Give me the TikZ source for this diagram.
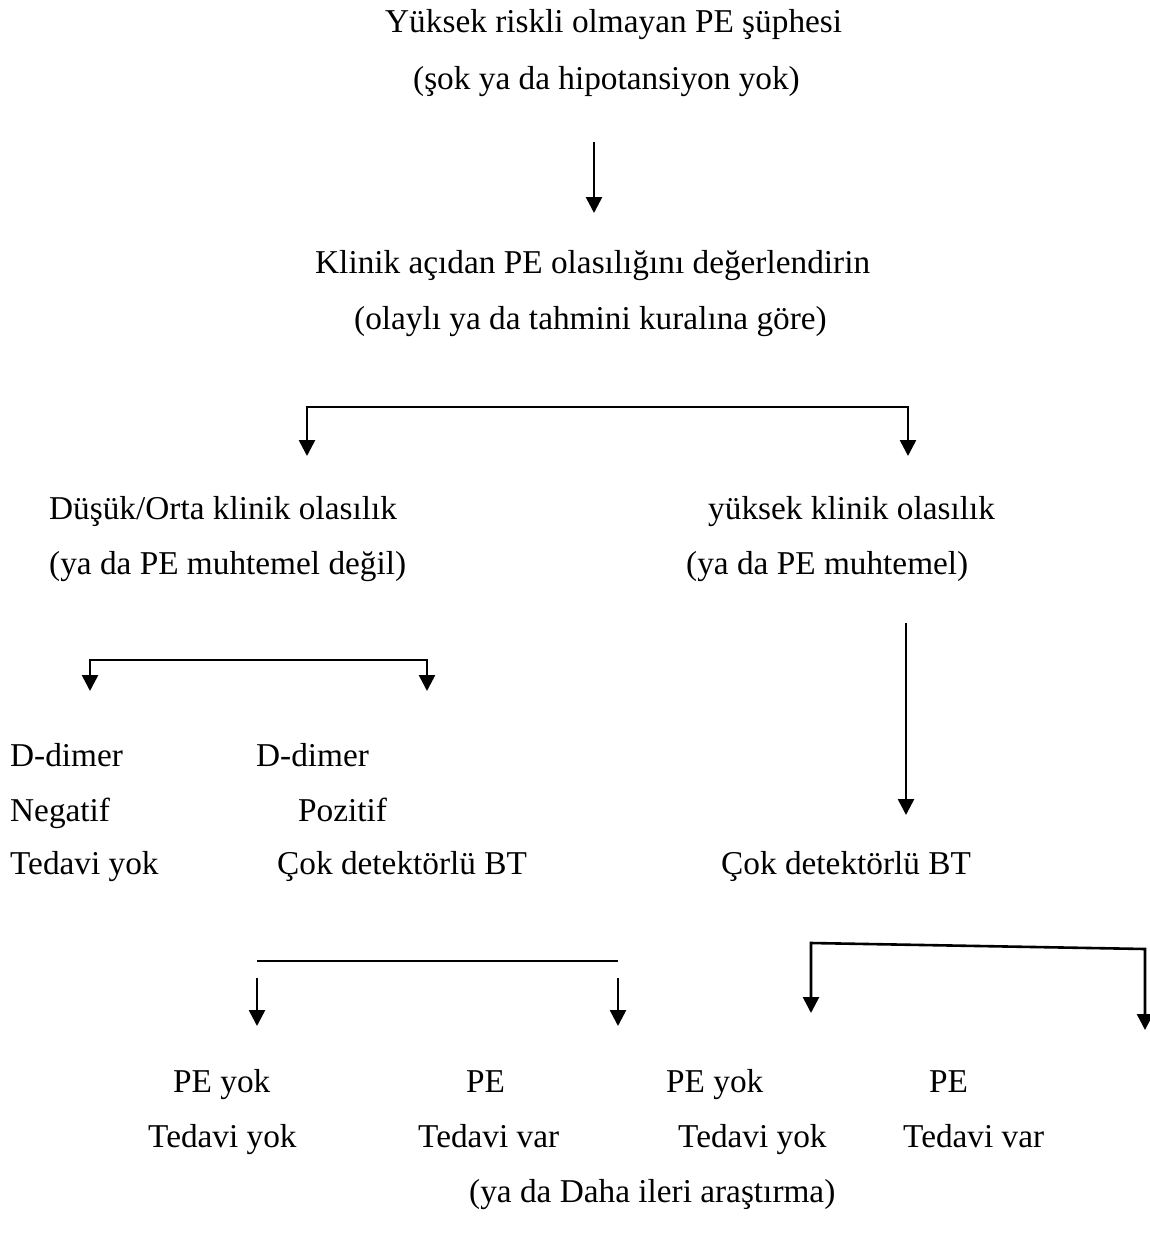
\documentclass[tikz,border=0pt]{standalone}
\usepackage{fontspec}
\setmainfont{Liberation Serif}
\usepackage{tikz}
\usetikzlibrary{arrows.meta}

\tikzset{
  lbl/.style={anchor=base west,inner sep=0pt,font=\fontsize{33.3}{40}\selectfont},
  arr/.style={line width=2.6pt,-{Triangle[width=16pt,length=16pt]}},
  link/.style={line width=2.6pt}
}

\begin{document}
\begin{tikzpicture}[x=1pt,y=-1pt]
\useasboundingbox (0,0) rectangle (1150,1239);

% Top
\node[lbl] (susp) at (385,33) {Yüksek riskli olmayan PE şüphesi};
\node[lbl] (shock) at (413,89) {(şok ya da hipotansiyon yok)};
\node[lbl] (assess) at (315,273) {Klinik açıdan PE olasılığını değerlendirin};
\node[lbl] (rule) at (354,329) {(olaylı ya da tahmini kuralına göre)};

% Probability
\node[lbl] (lowprob) at (49,519) {Düşük/Orta klinik olasılık};
\node[lbl] (unlikely) at (49,574) {(ya da PE muhtemel değil)};
\node[lbl] (highprob) at (708,519) {yüksek klinik olasılık};
\node[lbl] (likely) at (686,574) {(ya da PE muhtemel)};

% D-dimer
\node[lbl] (ddneg) at (10,766) {D-dimer};
\node[lbl] (neg) at (10,821) {Negatif};
\node[lbl] (notreat) at (10,874) {Tedavi yok};
\node[lbl] (ddpos) at (256,766) {D-dimer};
\node[lbl] (pos) at (298,821) {Pozitif};
\node[lbl] (ctleft) at (277,874) {Çok detektörlü BT};
\node[lbl] (ctright) at (721,874) {Çok detektörlü BT};

% Results
\node[lbl] (nopeA) at (173,1092) {PE yok};
\node[lbl] (peA) at (466,1092) {PE};
\node[lbl] (nopeB) at (666,1092) {PE yok};
\node[lbl] (peB) at (929,1092) {PE};
\node[lbl] (treatA) at (148,1147) {Tedavi yok};
\node[lbl] (treatB) at (418,1147) {Tedavi var};
\node[lbl] (treatC) at (678,1147) {Tedavi yok};
\node[lbl] (treatD) at (903,1147) {Tedavi var};
\node[lbl] (further) at (469,1202) {(ya da Daha ileri araştırma)};

% Arrow ends
\coordinate (topA) at (594,142);
\coordinate (topB) at (594,213);
\coordinate (splitL) at (307,456);
\coordinate (splitR) at (908,456);
\coordinate (splitY) at (0,407);
\coordinate (ddL) at (90,691);
\coordinate (ddR) at (427,691);
\coordinate (ddY) at (0,660);
\coordinate (hiA) at (906,623);
\coordinate (hiB) at (906,815);
\coordinate (ctLineL) at (257,961);
\coordinate (ctLineR) at (618,961);
\coordinate (ctAL) at (257,978);
\coordinate (ctBL) at (257,1026);
\coordinate (ctAR) at (618,978);
\coordinate (ctBR) at (618,1026);
\coordinate (rtL) at (811,943);
\coordinate (rtR) at (1145,949);
\coordinate (rtBL) at (811,1013);
\coordinate (rtBR) at (1145,1030);

% Connectors
\draw[arr] (topA) -- (topB);
\draw[line width=2.6pt,{Triangle[width=16pt,length=16pt]}-{Triangle[width=16pt,length=16pt]}]
  (splitL) -- (splitL |- splitY) -- (splitR |- splitY) -- (splitR);
\draw[line width=2.6pt,{Triangle[width=16pt,length=16pt]}-{Triangle[width=16pt,length=16pt]}]
  (ddL) -- (ddL |- ddY) -- (ddR |- ddY) -- (ddR);
\draw[arr] (hiA) -- (hiB);
\draw[link] (ctLineL) -- (ctLineR);
\draw[arr] (ctAL) -- (ctBL);
\draw[arr] (ctAR) -- (ctBR);
\draw[line width=2.6pt,{Triangle[width=16pt,length=16pt]}-{Triangle[width=16pt,length=16pt]}]
  (rtBL) -- (rtL) -- (rtR) -- (rtBR);
\end{tikzpicture}
\end{document}
